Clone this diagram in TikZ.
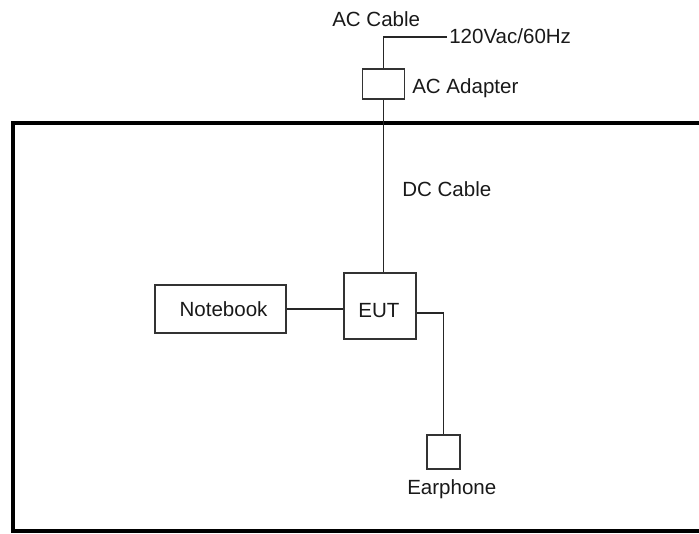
\documentclass[tikz,border=0pt]{standalone}
\usepackage{fontspec}
\setmainfont{Liberation Sans}
\begin{document}
\begin{tikzpicture}[x=0.75pt,y=-0.75pt,
  box/.style={draw=black!80,line width=1.3pt,inner sep=0pt},
  wire/.style={draw=black!85,line width=1.3pt},
  lbl/.style={font=\fontsize{15.4}{18}\selectfont,inner sep=0pt,text=black!90},
  frame/.style={draw=black,line width=2.8pt}]
\useasboundingbox (0,0) rectangle (699,533);
\clip (0,0) rectangle (699,533);
% frame
\draw[frame] (720,123) -- (13,123) -- (13,531) -- (720,531);
% boxes (sizes in pt: px * 0.75)
\node[box,minimum width=31.5pt,minimum height=22.5pt] (adapter) at (383.5,84) {};
\node[box,minimum width=98.25pt,minimum height=36pt] (notebook) at (220.5,309) {};
\node[box,minimum width=54pt,minimum height=49.5pt] (eut) at (380,306) {};
\node[box,minimum width=24.75pt,minimum height=25.5pt] (ear) at (443.5,452) {};
% labels
\node[lbl,anchor=base west] (accable) at (332,26) {AC Cable};
\node[lbl,anchor=base west] (volt) at (449,43) {120Vac/60Hz};
\node[lbl,anchor=base west] (aclabel) at (412,93) {AC Adapter};
\node[lbl,anchor=base west] (dclabel) at (402,196) {DC Cable};
\node[lbl,anchor=base] (nbtext) at (223.5,316) {Notebook};
\node[lbl,anchor=base] (euttext) at (379,317) {EUT};
\node[lbl,anchor=base west] (eartext) at (407,494) {Earphone};
% wires
\coordinate (acend) at (447,37);
\draw[wire] (acend) -| (adapter.north);
\draw[wire] (adapter.south) -- (adapter.south |- eut.north);
\draw[wire] (notebook.east) -- (notebook.east -| eut.west);
\draw[wire] (eut.east |- 0,313) -| (ear.north);
\end{tikzpicture}
\end{document}
